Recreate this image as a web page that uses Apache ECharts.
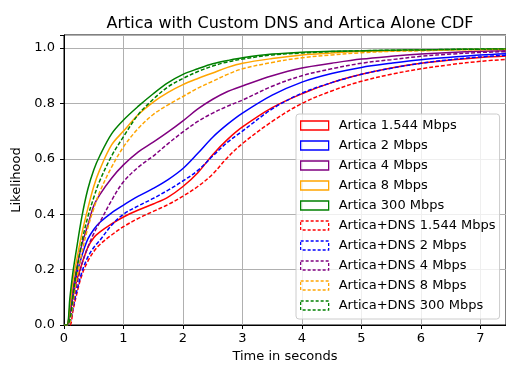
<!DOCTYPE html>
<html>
<head>
<meta charset="utf-8">
<script src="https://cdn.jsdelivr.net/npm/echarts@6/dist/echarts.min.js"></script>
<style>
  html, body { margin: 0; padding: 0; background: #fff; }
  #main { width: 506px; height: 368px; }
</style>
</head>
<body>
<div id="main"></div>
<script>
// time points (seconds) shared by all curves
var times = [0, 0.05, 0.1, 0.15, 0.2, 0.3, 0.4, 0.5, 0.6, 0.8, 1, 1.25, 1.5, 1.75, 2, 2.25, 2.5, 2.75, 3, 3.5, 4, 4.5, 5, 5.5, 6, 6.5, 7, 7.5];

// Artica alone
var artica1544 = [0, 0, 0.04, 0.1, 0.15, 0.22, 0.28, 0.315, 0.335, 0.365, 0.39, 0.415, 0.437, 0.462, 0.5, 0.55, 0.615, 0.67, 0.715, 0.785, 0.835, 0.875, 0.905, 0.928, 0.945, 0.957, 0.966, 0.972];
var artica2 = [0, 0, 0.05, 0.11, 0.17, 0.25, 0.31, 0.345, 0.37, 0.405, 0.433, 0.465, 0.493, 0.525, 0.565, 0.62, 0.678, 0.725, 0.765, 0.83, 0.877, 0.908, 0.93, 0.945, 0.958, 0.967, 0.975, 0.98];
var artica4 = [0, 0, 0.06, 0.13, 0.19, 0.29, 0.36, 0.43, 0.47, 0.53, 0.578, 0.625, 0.66, 0.697, 0.737, 0.78, 0.815, 0.843, 0.863, 0.9, 0.928, 0.945, 0.96, 0.97, 0.978, 0.984, 0.988, 0.99];
var artica8 = [0, 0, 0.07, 0.16, 0.22, 0.33, 0.42, 0.5, 0.56, 0.65, 0.7, 0.76, 0.805, 0.84, 0.868, 0.89, 0.91, 0.93, 0.945, 0.962, 0.975, 0.982, 0.988, 0.99, 0.992, 0.994, 0.995, 0.996];
var artica300 = [0, 0, 0.1, 0.19, 0.26, 0.39, 0.49, 0.56, 0.61, 0.69, 0.74, 0.79, 0.835, 0.875, 0.905, 0.925, 0.943, 0.955, 0.965, 0.978, 0.985, 0.988, 0.99, 0.992, 0.993, 0.995, 0.996, 0.997];

// Artica + custom DNS
var dns1544 = [0, 0, 0, 0.05, 0.1, 0.18, 0.23, 0.265, 0.29, 0.325, 0.355, 0.385, 0.41, 0.435, 0.465, 0.5, 0.545, 0.605, 0.655, 0.735, 0.8, 0.845, 0.88, 0.905, 0.925, 0.94, 0.952, 0.96];
var dns2 = [0, 0, 0.01, 0.06, 0.11, 0.19, 0.245, 0.28, 0.305, 0.36, 0.4, 0.43, 0.457, 0.487, 0.52, 0.558, 0.61, 0.66, 0.7, 0.78, 0.837, 0.875, 0.905, 0.927, 0.945, 0.958, 0.968, 0.975];
var dns4 = [0, 0, 0.01, 0.07, 0.13, 0.22, 0.28, 0.33, 0.37, 0.45, 0.517, 0.57, 0.61, 0.655, 0.697, 0.735, 0.765, 0.79, 0.812, 0.862, 0.9, 0.925, 0.945, 0.958, 0.97, 0.978, 0.984, 0.987];
var dns8 = [0, 0, 0.01, 0.08, 0.15, 0.26, 0.35, 0.42, 0.48, 0.57, 0.643, 0.71, 0.76, 0.795, 0.825, 0.855, 0.88, 0.905, 0.925, 0.948, 0.965, 0.975, 0.983, 0.988, 0.99, 0.993, 0.994, 0.995];
var dns300 = [0, 0, 0.02, 0.1, 0.18, 0.3, 0.39, 0.46, 0.52, 0.61, 0.68, 0.76, 0.815, 0.86, 0.89, 0.915, 0.935, 0.95, 0.96, 0.975, 0.982, 0.987, 0.99, 0.992, 0.993, 0.995, 0.996, 0.997];

var names = ['Artica 1.544 Mbps', 'Artica 2 Mbps', 'Artica 4 Mbps', 'Artica 8 Mbps', 'Artica 300 Mbps',
             'Artica+DNS 1.544 Mbps', 'Artica+DNS 2 Mbps', 'Artica+DNS 4 Mbps', 'Artica+DNS 8 Mbps', 'Artica+DNS 300 Mbps'];
var values = [artica1544, artica2, artica4, artica8, artica300, dns1544, dns2, dns4, dns8, dns300];
var colors = ['#ff0000', '#0000ff', '#800080', '#ffa500', '#008000'];

var FONT = 'DejaVu Sans';

function pairs(arr) {
	var out = [];
	for (var i = 0; i < times.length; i++) out.push([times[i], arr[i]]);
	return out;
}

var series = [];
var legendData = [];
for (var i = 0; i < names.length; i++) {
	var c = colors[i % 5];
	var dashed = i >= 5;
	series.push({
		name: names[i],
		type: 'line',
		data: pairs(values[i]),
		showSymbol: false,
		smooth: 0.35,
		lineStyle: { color: c, width: 1.5, type: dashed ? [4, 2] : 'solid' },
		itemStyle: { color: c },
		emphasis: { disabled: true },
		animation: false
	});
	legendData.push({
		name: names[i],
		icon: 'rect',
		itemStyle: {
			color: 'rgba(0,0,0,0)',
			borderColor: c,
			borderWidth: 1.3,
			borderType: dashed ? [3, 2] : 'solid'
		}
	});
}

var chart = echarts.init(document.getElementById('main'));
var option = {
	backgroundColor: '#fff',
	title: {
		text: 'Artica with Custom DNS and Artica Alone CDF',
		left: 285, top: 11, textAlign: 'center',
		textStyle: { fontFamily: FONT, fontSize: 16, fontWeight: 'normal', color: '#000' }
	},
	grid: {
		left: 64, right: -1, top: 35, bottom: 43,
		show: true, borderColor: '#000', borderWidth: 1, backgroundColor: 'transparent'
	},
	legend: {
		data: legendData,
		orient: 'vertical',
		left: 296, top: 114,
		itemWidth: 28, itemHeight: 9,
		itemGap: 5,
		padding: [4, 4, 6, 4],
		backgroundColor: 'rgba(255,255,255,0.8)',
		borderColor: '#cccccc', borderWidth: 1, borderRadius: 3,
		textStyle: { fontFamily: FONT, fontSize: 13, color: '#000', lineHeight: 15, padding: [0, 0, 0, 5] },
		selectedMode: false
	},
	xAxis: {
		type: 'value', min: 0, max: 7.43, interval: 1,
		name: 'Time in seconds', nameLocation: 'middle', nameGap: 25,
		nameTextStyle: { fontFamily: FONT, fontSize: 13, color: '#000' },
		axisLine: { lineStyle: { color: '#000', width: 1 } },
		axisTick: { show: true, length: 4, lineStyle: { color: '#000' } },
		axisLabel: { fontFamily: FONT, fontSize: 13, color: '#000', margin: 7, showMaxLabel: false },
		splitLine: { show: true, lineStyle: { color: '#b0b0b0', width: 1 } }
	},
	yAxis: {
		type: 'value', min: 0, max: 1.047, interval: 0.2,
		name: 'Likelihood', nameLocation: 'middle', nameGap: 35, nameRotate: 90,
		nameTextStyle: { fontFamily: FONT, fontSize: 13, color: '#000' },
		axisLine: { show: true, lineStyle: { color: '#000', width: 1 } },
		axisTick: { show: true, length: 4, lineStyle: { color: '#000' } },
		axisLabel: {
			fontFamily: FONT, fontSize: 13, color: '#000', margin: 9,
			formatter: function (v) { return v > 1.01 ? '' : v.toFixed(1); }
		},
		splitLine: { show: true, lineStyle: { color: '#b0b0b0', width: 1 } }
	},
	series: series
};
chart.setOption(option);
window.onresize = chart.resize;
</script>
</body>
</html>
